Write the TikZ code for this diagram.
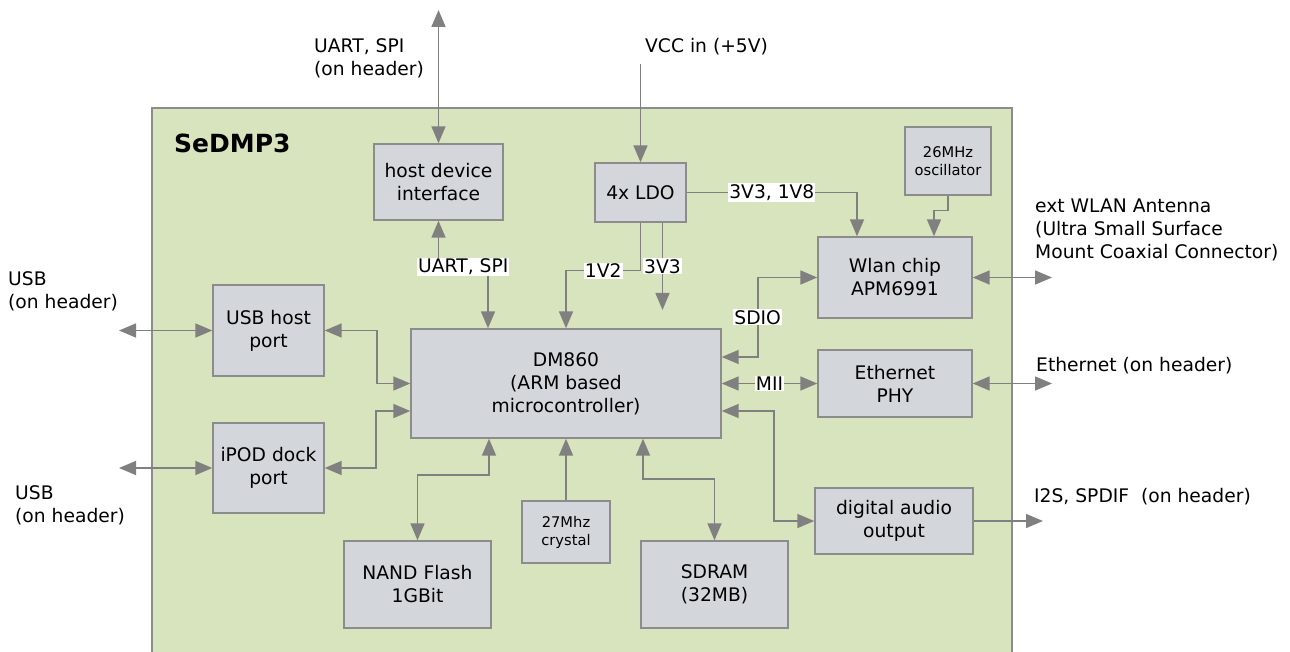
\documentclass[tikz,border=0pt]{standalone}
\usepackage{fontspec}
\setmainfont{DejaVu Sans}
\usetikzlibrary{arrows.meta, positioning}
\definecolor{boardgreen}{HTML}{D7E4BD}
\definecolor{chipgray}{HTML}{D3D7DB}
\definecolor{wiregray}{HTML}{808080}
\definecolor{edgegray}{HTML}{8C8C8C}
\tikzset{
  block/.style={rectangle, draw=edgegray, line width=1.4pt, fill=chipgray, align=center, inner sep=0pt, font=\fontsize{18.7}{23}\selectfont},
  smallblock/.style={block, font=\fontsize{14.7}{18}\selectfont},
  wire/.style={draw=wiregray, line width=1.6pt},
  arrow/.style={wire, -{Triangle[length=17pt,width=14pt]}},
  dblarrow/.style={wire, {Triangle[length=17pt,width=14pt]}-{Triangle[length=17pt,width=14pt]}},
  tag/.style={fill=white, inner sep=1pt, font=\fontsize{18.7}{22}\selectfont},
  outside/.style={align=left, inner sep=0pt, anchor=west, font=\fontsize{18.7}{23}\selectfont}
}

\begin{document}
\begin{tikzpicture}[x=1pt, y=-1pt]
    \useasboundingbox (0,0) rectangle (1290,652);
    % board
    \fill[boardgreen] (152,108) rectangle (1012,652);
    \draw[edgegray, line width=1.4pt] (152,652) -- (152,108) -- (1012,108) -- (1012,652);
    \node (title) [anchor=west, inner sep=0pt, font=\bfseries\fontsize{25}{30}\selectfont] at (174,143) {SeDMP3};

    % blocks
    \node (hdi) [block, minimum width=129pt, minimum height=76pt] at (438.5,182) {host device\\interface};
    \node (ldo) [block, minimum width=91pt, minimum height=59pt] at (640.5,192.5) {4x LDO};
    \node (osc) [smallblock, minimum width=86pt, minimum height=68pt] at (948,161) {26MHz\\oscillator};
    \node (wlan) [block, minimum width=154pt, minimum height=81pt] at (895,277.5) {Wlan chip\\APM6991};
    \node (eth) [block, minimum width=154pt, minimum height=67pt] at (895,383.5) {Ethernet\\PHY};
    \node (dm) [block, minimum width=310pt, minimum height=109pt] at (566,383.5) {DM860\\(ARM based\\microcontroller)};
    \node (usbhost) [block, minimum width=111pt, minimum height=91pt] at (268.5,330.5) {USB host\\port};
    \node (ipod) [block, minimum width=111pt, minimum height=90pt] at (268.5,468) {iPOD dock\\port};
    \node (nand) [block, minimum width=147pt, minimum height=87pt] at (417.5,584.5) {NAND Flash\\1GBit};
    \node (xtal) [smallblock, minimum width=88pt, minimum height=62pt] at (566,532) {27Mhz\\crystal};
    \node (sdram) [block, minimum width=147pt, minimum height=87pt] at (714.5,584.5) {SDRAM\\(32MB)};
    \node (audio) [block, minimum width=158pt, minimum height=66pt] at (894,521) {digital audio\\output};

    % outer ends
    \coordinate (hosttop) at (438.5,10);
    \coordinate (vccin) at (640.5,64);
    \coordinate (ldo3v3) at (662.5,310);
    \coordinate (usbext) at (119,330.5);
    \coordinate (ipodext) at (119,468);
    \coordinate (antenna) at (1052,277.5);
    \coordinate (ethext) at (1052,383.5);
    \coordinate (audioext) at (1043,521);

    % outer labels
    \node (uartlbl) [outside] at (314,58) {UART, SPI\\(on header)};
    \node (vcclbl) [outside] at (645,47) {VCC in (+5V)};
    \node (usblbl) [outside] at (8,291) {USB\\(on header)};
    \node (ipodlbl) [outside] at (15,505) {USB\\(on header)};
    \node (antlbl) [outside] at (1035,230) {ext WLAN Antenna\\(Ultra Small Surface\\Mount Coaxial Connector)};
    \node (ethlbl) [outside] at (1036,366) {Ethernet (on header)};
    \node (audiolbl) [outside] at (1034,497) {I2S, SPDIF\ \ (on header)};

    % connections
    \draw [dblarrow] (hosttop) -- (hdi.north);
    \draw [dblarrow] (hdi.south) -- ++(0,46) -| node[tag, pos=0.25] {UART, SPI} ([xshift=-78pt]dm.north);
    \draw [arrow] (vccin) -- (ldo.north);
    \draw [arrow] (ldo.east) -| node[tag, pos=0.25] {3V3, 1V8} ([xshift=-38pt]wlan.north);
    \draw [arrow] (osc.south) -- ++(0,15) -| ([xshift=39pt]wlan.north);
    \draw [arrow] (ldo.south) -- ++(0,48) -| node[tag, pos=0.25] {1V2} (dm.north);
    \draw [arrow] ([xshift=22pt]ldo.south) -- node[tag] {3V3} (ldo3v3);
    \draw [dblarrow] ([yshift=26.5pt]dm.east) -- ++(36,0) |- node[tag, pos=0.25] {SDIO} (wlan.west);
    \draw [dblarrow] (dm.east) -- node[tag] {MII} (eth.west);
    \draw [dblarrow] ([yshift=-27.5pt]dm.east) -- ++(52,0) |- (audio.west);
    \draw [dblarrow] ([xshift=-77pt]dm.south) -- ++(0,36) -| (nand.north);
    \draw [arrow] (xtal.north) -- (dm.south);
    \draw [dblarrow] ([xshift=77pt]dm.south) -- ++(0,40) -| (sdram.north);
    \draw [dblarrow] (usbhost.east) -- ++(52,0) |- (dm.west);
    \draw [dblarrow] (ipod.east) -- ++(51,0) |- ([yshift=-27.5pt]dm.west);
    \draw [dblarrow] (usbext) -- (usbhost.west);
    \draw [dblarrow] (ipodext) -- (ipod.west);
    \draw [dblarrow] (wlan.east) -- (antenna);
    \draw [dblarrow] (eth.east) -- (ethext);
    \draw [arrow] (audio.east) -- (audioext);
\end{tikzpicture}
\end{document}
